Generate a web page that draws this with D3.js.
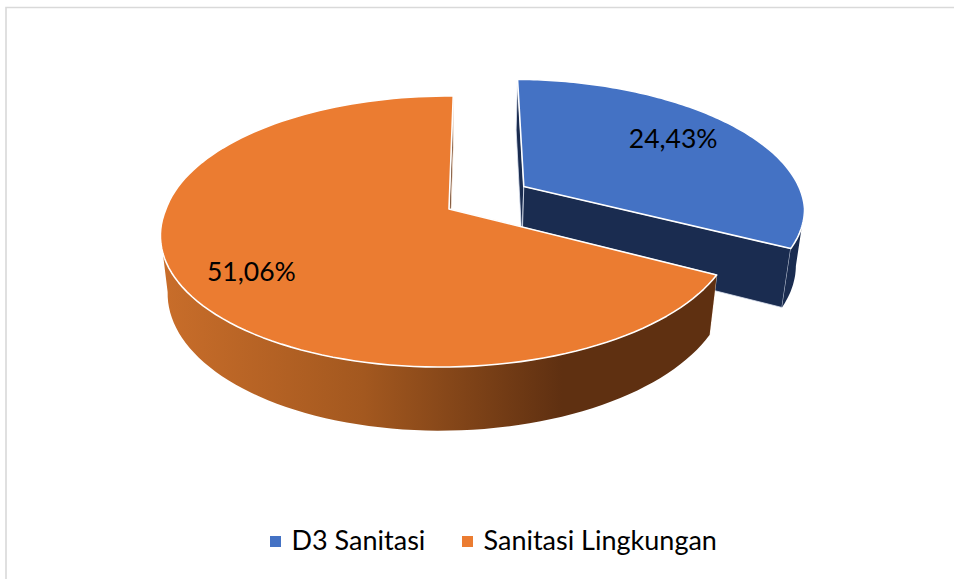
<!DOCTYPE html>
<html>
<head>
<meta charset="utf-8">
<script src="https://cdn.jsdelivr.net/npm/d3@7"></script>
<style>
  html, body { margin: 0; background: #fff; }
  svg { display: block; }
  text { font-family: Lato, "Open Sans", sans-serif; fill: #000; }
</style>
</head>
<body>
<svg id="chart" width="954" height="579"></svg>
<script>
const categories = ['D3 Sanitasi', 'Sanitasi Lingkungan']
const values = [24.43, 51.06]
const valueLabels = ['24,43%', '51,06%']
const topColors = ['#4472c4', '#eb7c31']
const wallColors = ['#1a2c50', 'url(#orangeWall)']

const svg = d3.select('#chart')

// frame of the chart area
svg.append('path').attr('d', 'M6,579V7.5H954').attr('fill', 'none').attr('stroke', '#d9d9d9').attr('stroke-width', 1.6)

// perspective of the tilted disc. x to the right, y towards the viewer, z down
const view = { cx: 449, cy: 209, r: 283, k: 131.8, p: 0.166, h: 58.6, q: 0.025, lean: 9 }
const project = (x, y, z) => {
  const d = 1 - view.p * y + view.q * z
  // the front of the disc leans a little to the left in the reference
  return [view.cx + view.r * x / d - view.lean * Math.max(0, y), view.cy + (view.k * y + view.h * z) / d]
}

const explode = [[0.272, -0.176], [0, 0]] // blue slice is pulled out
const labelRadius = [0.723, 0.772]
const labelTurn = [-3.6, -4].map(d => d * Math.PI / 180)

const pie = d3.pie().sort(null).startAngle(1 * Math.PI / 180).endAngle(361 * Math.PI / 180)
const slices = pie(values)

const rim = (d, i, z) => {
  const steps = d3.scaleLinear().domain([0, 120]).range([d.startAngle, d.endAngle])
  return d3.range(121).map(s => {
    const a = steps(s)
    return project(explode[i][0] + Math.sin(a), explode[i][1] - Math.cos(a), z)
  })
}

const defs = svg.append('defs')
const grad = defs.append('linearGradient').attr('id', 'orangeWall')
  .attr('gradientUnits', 'userSpaceOnUse').attr('x1', 165).attr('x2', 562).attr('y1', 0).attr('y2', 0)
grad.append('stop').attr('offset', 0).attr('stop-color', '#c86d2a')
grad.append('stop').attr('offset', 0.5).attr('stop-color', '#a3581f')
grad.append('stop').attr('offset', 1).attr('stop-color', '#5f3011')

const line = d3.line()

// back to front: pulled-out slice first, then the big one
slices.forEach((d, i) => {
  const top = rim(d, i, 0)
  const bottom = rim(d, i, 1)
  const apexTop = project(explode[i][0], explode[i][1], 0)
  const apexBottom = project(explode[i][0], explode[i][1], 1)
  const g = svg.append('g')

  const walls = [
    [apexTop, top[0], bottom[0], apexBottom],
    [apexTop, top[120], bottom[120], apexBottom]
  ]
  walls.forEach(w => {
    g.append('path').attr('d', line(w) + 'Z').attr('fill', i === 0 ? wallColors[i] : '#5f3011')
      .attr('stroke', i === 0 ? '#dfe6f2' : '#f6e2d2').attr('stroke-width', 0.8)
  })
  // outer wall: the strips facing the viewer, in one path so no seams show between them
  const strips = d3.range(120)
    .filter(s => top[s + 1][0] < top[s][0])
    .map(s => line([top[s], top[s + 1], bottom[s + 1], bottom[s]]) + 'Z')
  g.append('path').attr('d', strips.join('')).attr('fill', wallColors[i])

  g.append('path').attr('d', line([apexTop].concat(top)) + 'Z')
    .attr('fill', topColors[i]).attr('stroke', '#fff').attr('stroke-width', 1.6)
    .attr('stroke-linejoin', 'round')
})

// value labels
slices.forEach((d, i) => {
  const a = (d.startAngle + d.endAngle) / 2 + labelTurn[i]
  const pos = project(explode[i][0] + labelRadius[i] * Math.sin(a), explode[i][1] - labelRadius[i] * Math.cos(a), 0)
  svg.append('text').attr('x', pos[0]).attr('y', pos[1]).attr('dy', '0.35em')
    .attr('text-anchor', 'middle').attr('font-size', 26.5).text(valueLabels[i])
})

// legend
const legendSwatch = d3.scalePoint().domain(categories).range([270, 462])
categories.forEach((c, i) => {
  const x = legendSwatch(c)
  svg.append('rect').attr('x', x).attr('y', 536).attr('width', 11).attr('height', 11).attr('fill', topColors[i])
  svg.append('text').attr('x', x + 21.5).attr('y', 550).attr('font-size', 27).text(c)
})
</script>
</body>
</html>
